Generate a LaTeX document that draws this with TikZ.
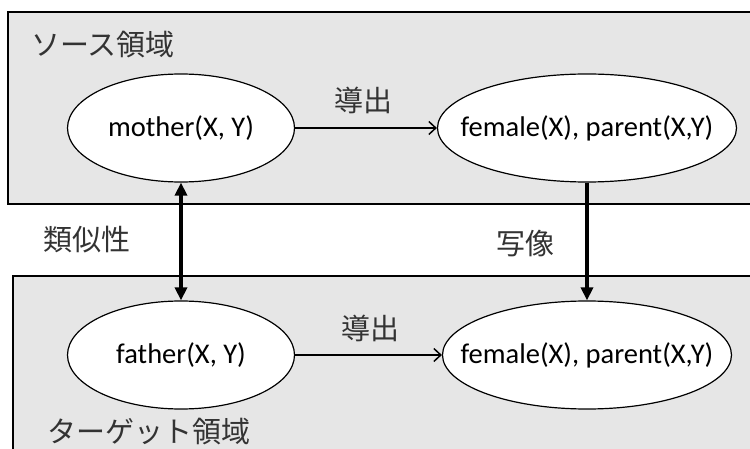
\documentclass[tikz,border=0pt]{standalone}
\usepackage{fontspec}
\setmainfont{Carlito}
\newfontfamily\jp{Noto Sans CJK JP}
\usetikzlibrary{arrows.meta,shapes.geometric}
\definecolor{boxgray}{HTML}{E6E6E6}
\newcommand{\zw}[1]{\makebox[0pt]{#1}}
\tikzset{
  regionbox/.style={fill=boxgray,draw=black,line width=1.2pt},
  termnode/.style={ellipse,draw=black,fill=white,line width=1.2pt,inner sep=0pt,
    minimum height=108pt,font=\fontsize{28.5}{34}\selectfont},
  jplabel/.style={inner sep=0pt,text=black!80,font=\jp\fontsize{29}{34}\selectfont},
  derivearrow/.style={line width=1.5pt,-{Straight Barb[length=7pt,width=13pt,line width=1.5pt]}},
  maparrow/.style={line width=4pt,-{Triangle[length=13pt,width=12pt]}},
  simarrow/.style={line width=4pt,{Triangle[length=13pt,width=12pt]}-{Triangle[length=13pt,width=12pt]}}
}
\begin{document}
\begin{tikzpicture}[x=1pt,y=-1pt]
\useasboundingbox (0,0) rectangle (750,449);
\clip (0,0) rectangle (750,449);
\fill[white] (0,0) rectangle (750,449);
% domains
\path[regionbox] (8,12) rectangle (770,204);
\path[regionbox] (13,276) rectangle (770,470);
% terms
\node[termnode,minimum width=227pt] (mother) at (181,128) {\zw{mother(X, Y)}};
\node[termnode,minimum width=299pt] (femS) at (587,128) {\zw{female(X), parent(X,Y)}};
\node[termnode,minimum width=227pt] (father) at (181,355) {\zw{father(X, Y)}};
\node[termnode,minimum width=289pt] (femT) at (587,355) {\zw{female(X), parent(X,Y)}};
% labels
\node[jplabel] (srcL) at (103,45) {ソース領域};
\node[jplabel] (tgtL) at (149,432) {ターゲット領域};
\node[jplabel] (der1) at (363,100) {導出};
\node[jplabel] (der2) at (370,328) {導出};
\node[jplabel] (sim) at (87,240) {類似性};
\node[jplabel] (map) at (525,244) {写像};
% connectors
\draw[derivearrow] (mother.east) -- (femS.west);
\draw[derivearrow] (father.east) -- (femT.west);
\draw[simarrow] (mother.south) -- (father.north);
\draw[maparrow] (femS.south) -- (femT.north);
\end{tikzpicture}
\end{document}
